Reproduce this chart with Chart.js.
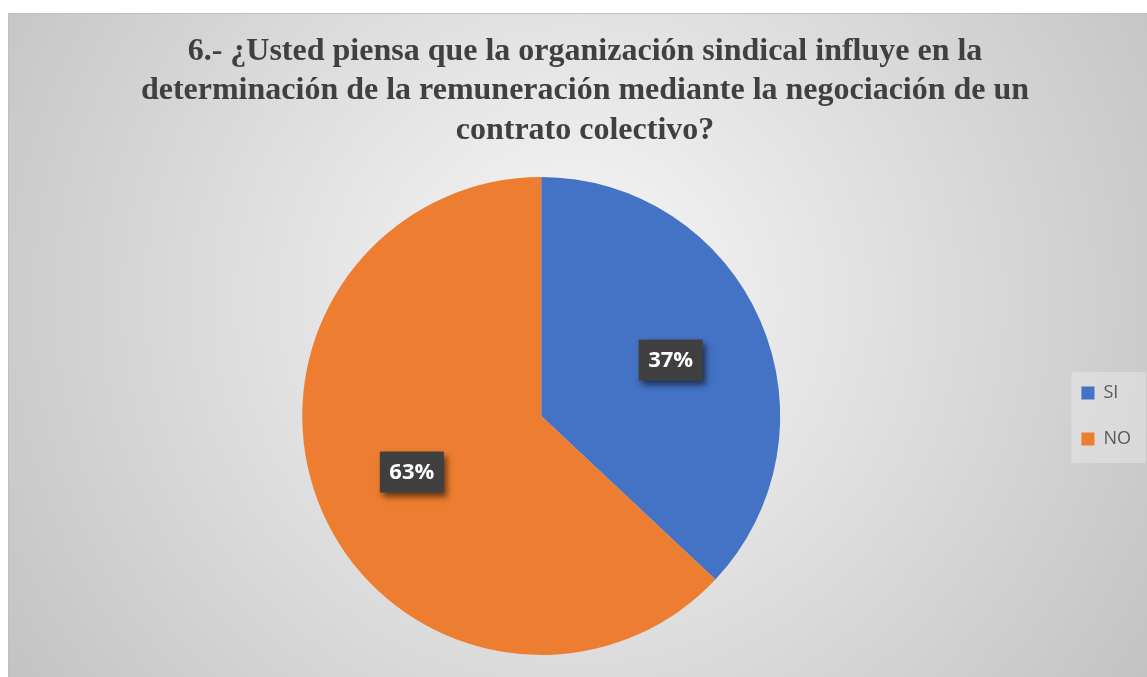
<!DOCTYPE html>
<html>
<head>
<meta charset="utf-8">
<script src="https://cdn.jsdelivr.net/npm/chart.js@4.4.1/dist/chart.umd.min.js"></script>
<style>
  html, body { margin: 0; padding: 0; background: #ffffff; overflow: hidden; }
  #wrap { position: absolute; left: 0; top: 0; width: 1147px; height: 677px; }
</style>
</head>
<body>
<div id="wrap"><canvas id="c" width="1147" height="677"></canvas></div>
<script>
const titleLines = [
  '6.- ¿Usted piensa que la organización sindical influye en la',
  'determinación de la remuneración mediante la negociación de un',
  'contrato colectivo?'
];
const categories = ['SI', 'NO'];
const values = [37, 63];
const sliceColors = ['#4472C4', '#ED7D31'];

const backgroundPlugin = {
  id: 'bg',
  beforeDraw(chart) {
    const ctx = chart.ctx;
    const W = chart.width, H = chart.height;
    ctx.save();
    ctx.fillStyle = '#ffffff';
    ctx.fillRect(0, 0, W, H);
    const x0 = 8, y0 = 13;
    const g = ctx.createRadialGradient(575, 300, 0, 575, 300, 680);
    g.addColorStop(0, '#f8f8f8');
    g.addColorStop(1, '#c3c3c3');
    ctx.fillStyle = g;
    ctx.fillRect(x0, y0, W - x0, H - y0);
    ctx.strokeStyle = '#bfbfbf';
    ctx.lineWidth = 1;
    ctx.beginPath();
    ctx.moveTo(x0 + 0.5, H);
    ctx.lineTo(x0 + 0.5, y0 + 0.5);
    ctx.lineTo(W, y0 + 0.5);
    ctx.stroke();
    // legend panel
    const hb = chart.legend && chart.legend.legendHitBoxes;
    if (hb && hb.length) {
      const first = hb[0], last = hb[hb.length - 1];
      const left = first.left - 10;
      const top = first.top - 12;
      const bottom = last.top + last.height + 15;
      ctx.fillStyle = 'rgba(255,255,255,0.28)';
      ctx.fillRect(left, top, W - left - 1, bottom - top);
    }
    ctx.restore();
  }
};

const labelPlugin = {
  id: 'pctLabels',
  afterDatasetsDraw(chart) {
    const ctx = chart.ctx;
    const meta = chart.getDatasetMeta(0);
    const data = chart.data.datasets[0].data;
    const total = data.reduce((a, b) => a + b, 0);
    meta.data.forEach((arc, i) => {
      const p = arc.getProps(['x', 'y', 'startAngle', 'endAngle', 'outerRadius'], true);
      const mid = (p.startAngle + p.endAngle) / 2;
      const r = p.outerRadius * 0.59;
      const cx = p.x + Math.cos(mid) * r;
      const cy = p.y + Math.sin(mid) * r;
      const txt = Math.round(data[i] / total * 100) + '%';
      const bw = 64, bh = 41;
      ctx.save();
      ctx.shadowColor = 'rgba(0,0,0,0.55)';
      ctx.shadowBlur = 6;
      ctx.shadowOffsetX = 3;
      ctx.shadowOffsetY = 4;
      ctx.fillStyle = '#404040';
      ctx.fillRect(cx - bw / 2, cy - bh / 2, bw, bh);
      ctx.restore();
      ctx.save();
      ctx.fillStyle = '#ffffff';
      ctx.font = 'bold 22px "Open Sans", sans-serif';
      ctx.textAlign = 'center';
      ctx.textBaseline = 'middle';
      ctx.fillText(txt, cx, cy + 1);
      ctx.restore();
    });
  }
};

new Chart(document.getElementById('c'), {
  type: 'pie',
  data: {
    labels: categories,
    datasets: [{
      data: values,
      backgroundColor: sliceColors,
      borderWidth: 0
    }]
  },
  options: {
    responsive: false,
    animation: false,
    devicePixelRatio: 1,
    layout: { padding: { left: 29, right: 6, top: 0, bottom: 22 } },
    plugins: {
      tooltip: { enabled: false },
      title: {
        display: true,
        text: titleLines,
        color: '#404040',
        font: { family: '"Liberation Serif", "Times New Roman", serif', size: 32, weight: 'bold', lineHeight: 1.23 },
        padding: { top: 32, bottom: 27 }
      },
      legend: {
        display: true,
        position: 'right',
        fullSize: false,
        labels: {
          color: '#595959',
          font: { family: '"Open Sans", sans-serif', size: 18 },
          boxWidth: 13,
          boxHeight: 13,
          padding: 28
        }
      }
    }
  },
  plugins: [backgroundPlugin, labelPlugin]
});
</script>
</body>
</html>
